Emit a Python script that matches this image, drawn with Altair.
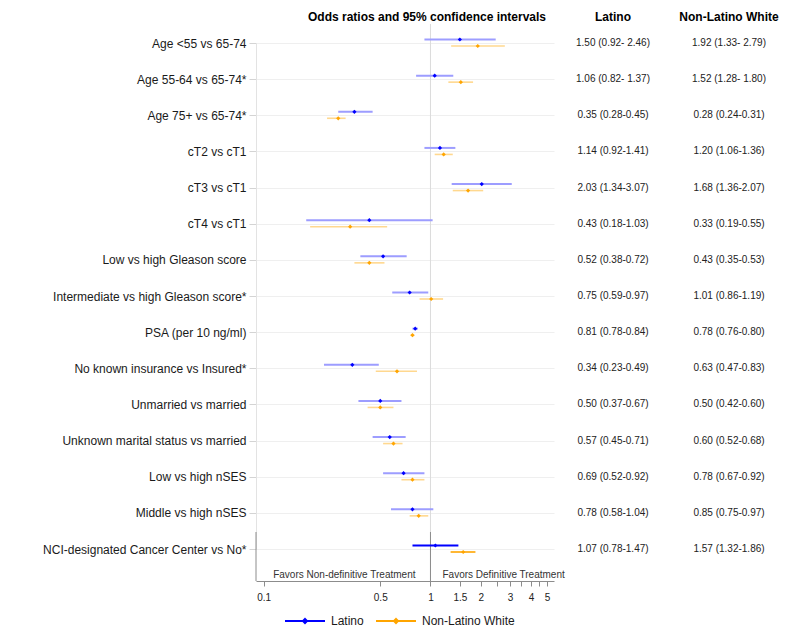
import altair as alt
import pandas as pd

LABELS = [
    "Age <55 vs 65-74",
    "Age 55-64 vs 65-74*",
    "Age 75+ vs 65-74*",
    "cT2 vs cT1",
    "cT3 vs cT1",
    "cT4 vs cT1",
    "Low vs high Gleason score",
    "Intermediate vs high Gleason score*",
    "PSA (per 10 ng/ml)",
    "No known insurance vs Insured*",
    "Unmarried vs married",
    "Unknown marital status vs married",
    "Low vs high nSES",
    "Middle vs high nSES",
    "NCI-designated Cancer Center vs No*",
]
LATINO_OR = [1.50, 1.06, 0.35, 1.14, 2.03, 0.43, 0.52, 0.75, 0.81, 0.34, 0.50, 0.57, 0.69, 0.78, 1.07]
LATINO_LO = [0.92, 0.82, 0.28, 0.92, 1.34, 0.18, 0.38, 0.59, 0.78, 0.23, 0.37, 0.45, 0.52, 0.58, 0.78]
LATINO_HI = [2.46, 1.37, 0.45, 1.41, 3.07, 1.03, 0.72, 0.97, 0.84, 0.49, 0.67, 0.71, 0.92, 1.04, 1.47]
NLW_OR = [1.92, 1.52, 0.28, 1.20, 1.68, 0.33, 0.43, 1.01, 0.78, 0.63, 0.50, 0.60, 0.78, 0.85, 1.57]
NLW_LO = [1.33, 1.28, 0.24, 1.06, 1.36, 0.19, 0.35, 0.86, 0.76, 0.47, 0.42, 0.52, 0.67, 0.75, 1.32]
NLW_HI = [2.79, 1.80, 0.31, 1.36, 2.07, 0.55, 0.53, 1.19, 0.80, 0.83, 0.60, 0.68, 0.92, 0.97, 1.86]
LATINO_TEXT = [
    "1.50 (0.92- 2.46)", "1.06 (0.82- 1.37)", "0.35 (0.28-0.45)", "1.14 (0.92-1.41)",
    "2.03 (1.34-3.07)", "0.43 (0.18-1.03)", "0.52 (0.38-0.72)", "0.75 (0.59-0.97)",
    "0.81 (0.78-0.84)", "0.34 (0.23-0.49)", "0.50 (0.37-0.67)", "0.57 (0.45-0.71)",
    "0.69 (0.52-0.92)", "0.78 (0.58-1.04)", "1.07 (0.78-1.47)",
]
NLW_TEXT = [
    "1.92 (1.33- 2.79)", "1.52 (1.28- 1.80)", "0.28 (0.24-0.31)", "1.20 (1.06-1.36)",
    "1.68 (1.36-2.07)", "0.33 (0.19-0.55)", "0.43 (0.35-0.53)", "1.01 (0.86-1.19)",
    "0.78 (0.76-0.80)", "0.63 (0.47-0.83)", "0.50 (0.42-0.60)", "0.60 (0.52-0.68)",
    "0.78 (0.67-0.92)", "0.85 (0.75-0.97)", "1.57 (1.32-1.86)",
]
GROUPS = ["Latino", "Non-Latino White"]
COLORS = ["#0000ff", "#ffa500"]
CI_LIGHT = ["#9d9dff", "#ffd88f"]
TICK_VALUES = [0.1, 0.5, 1, 1.5, 2, 2.5, 3, 3.5, 4, 4.5, 5]
UNLABELLED_TICKS = [2.5, 3.5, 4.5]
FAVORS = ["Favors Non-definitive Treatment", "Favors Definitive Treatment"]
HEADERS = ["Odds ratios and 95% confidence intervals", "Latino", "Non-Latino White"]

rows = []
for i, lab in enumerate(LABELS):
    panel = "bottom" if i == len(LABELS) - 1 else "top"
    rows.append(dict(label=lab, group=GROUPS[0], est=LATINO_OR[i], lo=LATINO_LO[i],
                     hi=LATINO_HI[i], txt=LATINO_TEXT[i], panel=panel))
    rows.append(dict(label=lab, group=GROUPS[1], est=NLW_OR[i], lo=NLW_LO[i],
                     hi=NLW_HI[i], txt=NLW_TEXT[i], panel=panel))
df = pd.DataFrame(rows)
one = pd.DataFrame({"k": [0]})

FONT = "Liberation Sans"
W, H = 298, 557
YRANGE = [19, 525]
COL_X = [357, 473]   # centres of the two text columns, relative to plot left
HEAD_X = [171, 357, 473]
HEAD_Y = -7

yscale = alt.Scale(type="point", range=YRANGE, padding=0)
y_axis = alt.Axis(title=None, labelFontSize=12, labelColor="#1a1a1a", labelFont=FONT,
                  labelPadding=3, tickSize=7, tickColor="#d4d4d4", grid=True,
                  gridColor="#efefef", domainColor="#e3e3e3", minExtent=248, labelLimit=400)
y_enc = alt.Y("label:N", sort=LABELS, scale=yscale, axis=y_axis)

label_expr = "(" + " || ".join(f"datum.value == {v}" for v in UNLABELLED_TICKS) + \
    ") ? '' : format(datum.value, '~g')"
x_main = alt.X("lo:Q", scale=alt.Scale(type="log", domain=[0.09, 5.5], nice=False),
               axis=alt.Axis(title=None, values=TICK_VALUES, labelExpr=label_expr,
                             labelFontSize=10, labelColor="#222222", labelFont=FONT,
                             tickColor="#8c8c8c", domainColor="#8c8c8c", tickSize=5,
                             labelPadding=6, grid=False, labelFlush=False))

base = alt.Chart(df)
single = alt.Chart(one)

ref1 = single.mark_rule(color="#dcdcdc", strokeWidth=1).encode(x=alt.X(datum=1, title=None))
ref_dark = single.mark_rule(color="#8c8c8c", strokeWidth=1).encode(
    x=alt.X(datum=1, title=None), y=alt.value(508), y2=alt.value(557))
left_dark = single.mark_rule(color="#8c8c8c", strokeWidth=1).encode(
    x=alt.value(0), y=alt.value(508), y2=alt.value(557))

layers = [ref1, ref_dark, left_dark]
offsets = [-3.5, 3]
widths = [2, 1.6]
for gi, g in enumerate(GROUPS):
    sub = base.transform_filter(alt.datum.group == g)
    ci = sub.mark_rule(yOffset=offsets[gi], strokeWidth=widths[gi]).encode(
        x=x_main if gi == 0 else alt.X("lo:Q", title=None),
        x2="hi:Q",
        y=y_enc,
        color=alt.condition(alt.datum.panel == "top", alt.value(CI_LIGHT[gi]), alt.value(COLORS[gi])),
    )
    pt = sub.mark_point(yOffset=offsets[gi], filled=True, shape="diamond", size=18,
                        opacity=1, color=COLORS[gi]).encode(
        x=alt.X("est:Q", title=None), y=y_enc)
    col = sub.mark_text(fontSize=10, font=FONT, color="#222222", baseline="middle",
                        align="center").encode(
        x=alt.value(COL_X[gi]), y=y_enc, text="txt:N")
    layers += [ci, pt, col]

legend_layer = base.mark_rule(strokeWidth=2).encode(
    x=alt.X("est:Q", title=None), x2="est:Q", y=y_enc,
    color=alt.Color("group:N", scale=alt.Scale(domain=GROUPS, range=COLORS),
                    legend=alt.Legend(title=None, orient="none", direction="horizontal",
                                      legendX=28, legendY=576,
                                      symbolType="M-1,0H1M0,-0.1L0.1,0L0,0.1L-0.1,0Z",
                                      symbolSize=1600, symbolStrokeWidth=2,
                                      labelFontSize=12, labelFont=FONT, labelColor="#1a1a1a",
                                      columnPadding=8, labelOffset=5)))
layers.append(legend_layer)

fav_left = single.mark_text(align="right", baseline="middle", dx=-15, fontSize=10,
                            font=FONT, color="#333333").encode(
    x=alt.X(datum=1, title=None), y=alt.value(551), text=alt.value(FAVORS[0]))
fav_right = single.mark_text(align="left", baseline="middle", dx=12, fontSize=10,
                             font=FONT, color="#333333").encode(
    x=alt.X(datum=1, title=None), y=alt.value(551), text=alt.value(FAVORS[1]))
layers += [fav_left, fav_right]

for hi_, htxt in enumerate(HEADERS):
    layers.append(single.mark_text(align="center", baseline="middle", fontSize=12,
                                   fontWeight="bold", font=FONT, color="#000000").encode(
        x=alt.value(HEAD_X[hi_]), y=alt.value(HEAD_Y), text=alt.value(htxt)))

chart = alt.layer(*layers).properties(
    width=W, height=H,
    padding={"left": 0, "top": 3, "right": 0, "bottom": 0},
).configure_view(strokeWidth=0)

chart.save("out.html", embed_options={"renderer": "svg", "actions": False})
